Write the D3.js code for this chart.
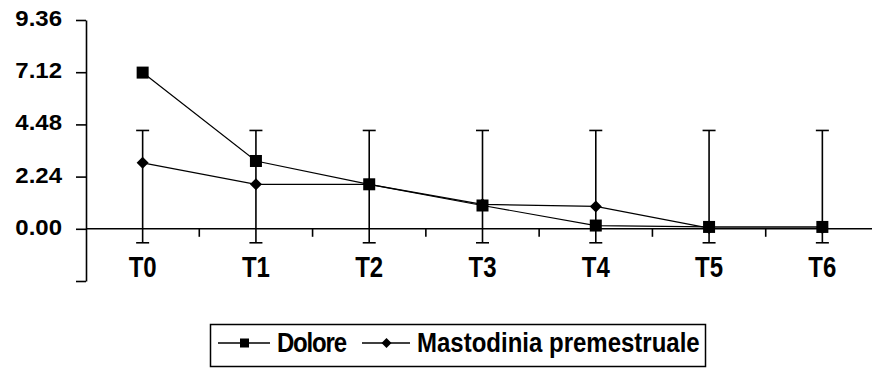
<!DOCTYPE html>
<html>
<head>
<meta charset="utf-8">
<script src="https://cdn.jsdelivr.net/npm/d3@7"></script>
<style>
  html, body { margin: 0; padding: 0; background: #fff; }
  svg { display: block; }
  text { font-family: "Liberation Sans", Arial, sans-serif; font-weight: bold; fill: #000; }
</style>
</head>
<body>
<svg id="chart" width="872" height="369"></svg>
<script>
// ---- data ----
const categories = ["T0", "T1", "T2", "T3", "T4", "T5", "T6"];
const dolore = [7.10, 2.91, 1.91, 1.00, 0.14, 0.08, 0.08];
const mastodinia = [2.83, 1.91, 1.91, 1.05, 0.96, 0.03, 0.03];
const errUpper = [4.22, 4.22, 4.22, 4.22, 4.22, 4.22, 4.22];
const errLower = [-0.60, -0.60, -0.60, -0.60, -0.60, -0.60, -0.60];
const yTickValues = [-2.24, 0, 2.24, 4.48, 7.12, 9.36];
const yTickLabels = ["", "0.00", "2.24", "4.48", "7.12", "9.36"];
const seriesNames = ["Dolore", "Mastodinia premestruale"];

// ---- layout ----
const svg = d3.select("#chart");
const plotTop = 20, plotBottom = 281, axisX = 86, plotRight = 879;
const n = yTickValues.length;

const y = d3.scaleLinear()
  .domain(yTickValues)
  .range(yTickValues.map((d, i) => plotBottom - i * (plotBottom - plotTop) / (n - 1)));

const x = d3.scaleBand().domain(categories).range([axisX, plotRight]).paddingInner(0).paddingOuter(0);
const cx = c => x(c) + x.bandwidth() / 2;

// ---- y axis ----
const yAxis = d3.axisLeft(y)
  .tickValues(yTickValues)
  .tickSize(10)
  .tickSizeOuter(0)
  .tickPadding(14)
  .tickFormat(() => "");
const gy = svg.append("g").attr("transform", `translate(${axisX},0)`).call(yAxis);
gy.select(".domain").attr("stroke", "#000").attr("stroke-width", 1.6);
gy.selectAll(".tick line").attr("stroke", "#000").attr("stroke-width", 1.6);
svg.append("g").selectAll("text.yl")
  .data(yTickValues)
  .join("text")
  .attr("text-anchor", "end")
  .attr("transform", d => `translate(62,${y(d) + 6}) scale(1,0.92)`)
  .style("font-size", "24px")
  .text((d, i) => yTickLabels[i]);

// ---- x axis (at y=0) ----
const y0 = y(0);
svg.append("line")
  .attr("x1", axisX).attr("x2", plotRight)
  .attr("y1", y0).attr("y2", y0)
  .attr("stroke", "#000").attr("stroke-width", 1.6);
svg.append("g").selectAll("line.minor")
  .data(categories.slice(1))
  .join("line")
  .attr("x1", d => x(d)).attr("x2", d => x(d))
  .attr("y1", y0).attr("y2", y0 + 8)
  .attr("stroke", "#000").attr("stroke-width", 1.6);

svg.append("g").selectAll("text.xl")
  .data(categories)
  .join("text")
  .attr("text-anchor", "middle")
  .attr("transform", d => `translate(${cx(d)},${277}) scale(1,1.2)`)
  .style("font-size", "24px")
  .text(d => d);

// ---- lines ----
const line = d3.line().x((d, i) => cx(categories[i])).y(d => y(d));
svg.append("path").datum(dolore).attr("d", line)
  .attr("fill", "none").attr("stroke", "#000").attr("stroke-width", 1.2);
svg.append("path").datum(mastodinia).attr("d", line)
  .attr("fill", "none").attr("stroke", "#000").attr("stroke-width", 1.2);

// ---- error bars ----
const eb = svg.append("g").attr("stroke", "#000").attr("stroke-width", 1.6);
categories.forEach((c, i) => {
  const xc = cx(c);
  eb.append("line").attr("x1", xc).attr("x2", xc).attr("y1", y(errUpper[i])).attr("y2", y(errLower[i]));
  eb.append("line").attr("x1", xc - 6.5).attr("x2", xc + 6.5).attr("y1", y(errUpper[i])).attr("y2", y(errUpper[i]));
  eb.append("line").attr("x1", xc - 6.5).attr("x2", xc + 6.5).attr("y1", y(errLower[i])).attr("y2", y(errLower[i]));
});

// ---- markers ----
const diamond = s => `M0,${-s}L${s},0L0,${s}L${-s},0Z`;
svg.append("g").selectAll("path")
  .data(mastodinia)
  .join("path")
  .attr("d", diamond(6))
  .attr("transform", (d, i) => `translate(${cx(categories[i])},${y(d)})`)
  .attr("fill", "#000");
svg.append("g").selectAll("rect")
  .data(dolore)
  .join("rect")
  .attr("x", (d, i) => cx(categories[i]) - 6)
  .attr("y", d => y(d) - 6)
  .attr("width", 12).attr("height", 12)
  .attr("fill", "#000");

// ---- legend ----
const lg = svg.append("g");
lg.append("rect").attr("x", 210.5).attr("y", 324.5).attr("width", 495).attr("height", 42)
  .attr("fill", "#fff").attr("stroke", "#000").attr("stroke-width", 1.5);
const legendY = 343;
// Dolore
lg.append("line").attr("x1", 218).attr("x2", 270).attr("y1", legendY).attr("y2", legendY)
  .attr("stroke", "#000").attr("stroke-width", 1.5);
lg.append("rect").attr("x", 240).attr("y", legendY - 4.5).attr("width", 9).attr("height", 9).attr("fill", "#000");
lg.append("text").attr("transform", `translate(277,${352}) scale(1,1.15)`)
  .style("font-size", "24px").attr("textLength", 70).attr("lengthAdjust", "spacing").text(seriesNames[0]);
// Mastodinia
lg.append("line").attr("x1", 362).attr("x2", 410).attr("y1", legendY).attr("y2", legendY)
  .attr("stroke", "#000").attr("stroke-width", 1.5);
lg.append("path").attr("d", diamond(5)).attr("transform", `translate(386.5,${legendY})`).attr("fill", "#000");
lg.append("text").attr("transform", `translate(417,${352}) scale(1,1.15)`)
  .style("font-size", "24px").text(seriesNames[1]);
</script>
</body>
</html>
